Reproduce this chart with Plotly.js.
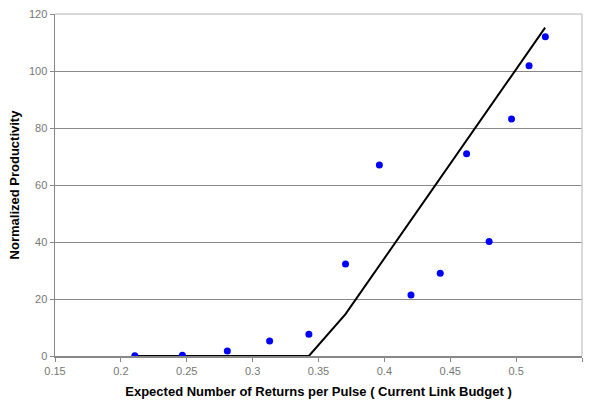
<!DOCTYPE html>
<html><head><meta charset="utf-8">
<script src="https://cdn.plot.ly/plotly-3.0.1.min.js"></script>
<style>body{margin:0;background:#fff}#c{width:590px;height:401px}</style>
</head><body><div id="c"></div>
<script>
var pointX = [0.2106, 0.2467, 0.2808, 0.3129, 0.3427, 0.3705, 0.3962, 0.4202, 0.4424, 0.4624, 0.4795, 0.4965, 0.5098, 0.5222];
var pointY = [0.1, 0.3, 1.75, 5.3, 7.6, 32.3, 67.0, 21.4, 29.0, 71.0, 40.2, 83.2, 101.8, 112.0];
var fitX = [0.21, 0.3427, 0.3705, 0.522];
var fitY = [0, 0, 14.7, 115.2];
var xTicks = [0.15, 0.2, 0.25, 0.3, 0.35, 0.4, 0.45, 0.5, 0.55];
var yTicks = [0, 20, 40, 60, 80, 100, 120];

var traces = [
  {x: fitX, y: fitY, mode: 'lines', line: {color: '#000', width: 2}, showlegend: false, hoverinfo: 'skip'},
  {x: pointX, y: pointY, mode: 'markers', marker: {color: '#0000ff', size: 7}, showlegend: false}
];
var layout = {
  width: 590, height: 401,
  margin: {l: 55, r: 8, t: 14, b: 45},
  paper_bgcolor: '#fff', plot_bgcolor: '#fff',
  font: {family: 'Liberation Sans, Arial, sans-serif'},
  xaxis: {
    range: [0.15, 0.55], tickvals: xTicks, ticktext: xTicks.map(String),
    showgrid: false, zeroline: false, showline: true, linecolor: '#888', linewidth: 1.5,
    ticks: 'outside', ticklen: 4, tickcolor: '#888',
    tickfont: {size: 11, color: '#777'}, mirror: false,
    title: {text: 'Expected Number of Returns per Pulse ( Current Link Budget )', font: {size: 13, color: '#000', weight: 'bold'}, standoff: 11}
  },
  yaxis: {
    range: [0, 120], tickvals: yTicks, ticktext: yTicks.map(String),
    showgrid: true, gridcolor: '#888', gridwidth: 1, zeroline: false,
    showline: true, linecolor: '#888', linewidth: 1.5,
    ticks: 'outside', ticklen: 4, tickcolor: '#888',
    tickfont: {size: 11, color: '#777'},
    title: {text: 'Normalized Productivity', font: {size: 13, color: '#000', weight: 'bold'}, standoff: 6}
  },
  shapes: [
    {type: 'line', xref: 'paper', yref: 'paper', x0: 0, x1: 1, y0: 1, y1: 1, line: {color: '#ccc', width: 1.5}},
    {type: 'line', xref: 'paper', yref: 'paper', x0: 1, x1: 1, y0: 0, y1: 1, line: {color: '#ccc', width: 1.5}}
  ]
};
Plotly.newPlot('c', traces, layout, {displayModeBar: false, staticPlot: true});
</script></body></html>
